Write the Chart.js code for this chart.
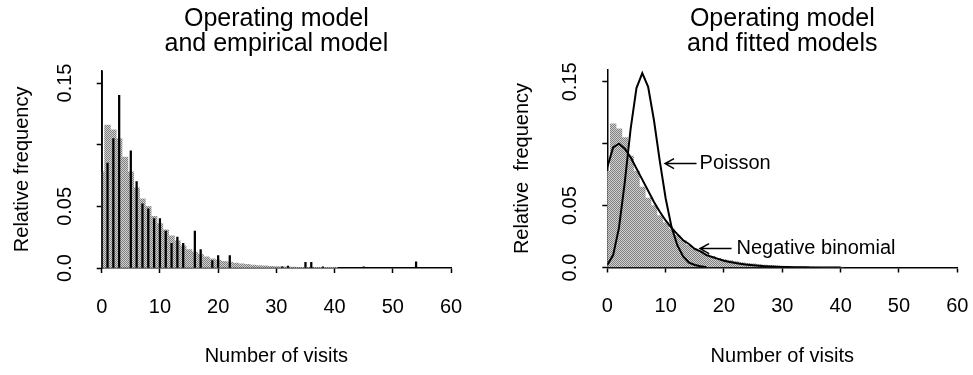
<!DOCTYPE html>
<html>
<head>
<meta charset="utf-8">
<script src="https://cdn.jsdelivr.net/npm/chart.js@4.4.1/dist/chart.umd.min.js"></script>
<style>
  html, body { margin: 0; padding: 0; background: #fff; }
  #wrap { position: relative; width: 973px; height: 375px; }
  canvas { position: absolute; top: 0; }
  #left { left: 0; }
  #right { left: 486px; }
</style>
</head>
<body>
<div id="wrap">
  <canvas id="left" width="486" height="375"></canvas>
  <canvas id="right" width="487" height="375"></canvas>
</div>
<script>
// ---- data ----
const visits = [0, 1, 2, 3, 4, 5, 6, 7, 8, 9, 10, 11, 12, 13, 14, 15, 16, 17, 18, 19, 20,
  21, 22, 23, 24, 25, 26, 27, 28, 29, 30, 31, 32, 33, 34, 35, 36, 37, 38, 39, 40];

// operating model (grey histogram)
const operatingModel = [0.078, 0.116, 0.112, 0.105, 0.090, 0.078, 0.065, 0.056, 0.050, 0.042, 0.036,
  0.031, 0.026, 0.022, 0.018, 0.015, 0.013, 0.011, 0.009, 0.0075, 0.0065,
  0.0055, 0.0047, 0.004, 0.0034, 0.0029, 0.0024, 0.002, 0.0017, 0.0014, 0.0012,
  0.001, 0.0008, 0.0007, 0.0006, 0.0005, 0.0004, 0.0003, 0.0003, 0.0002, 0.0002];

// empirical model (black needles)
const empiricalVisits = [0, 1, 2, 3, 5, 6, 7, 8, 9, 10, 11, 12, 13, 14, 16, 17, 19, 20, 22, 31, 32, 35, 36, 38, 45, 54];
const empiricalFreq = [0.160, 0.085, 0.105, 0.140, 0.095, 0.070, 0.052, 0.048, 0.040, 0.040, 0.030, 0.020, 0.025,
  0.020, 0.030, 0.015, 0.006, 0.010, 0.010, 0.001, 0.0015, 0.0045, 0.0045, 0.001, 0.001, 0.005];

// fitted models
const poissonFreq = [0.002, 0.010, 0.032, 0.069, 0.112, 0.145, 0.157, 0.146, 0.119, 0.086, 0.056,
  0.033, 0.018, 0.009, 0.004, 0.002, 0.001, 0.0003];
const negBinomialFreq = [0.081, 0.097, 0.100, 0.096, 0.089, 0.080, 0.071, 0.062, 0.053, 0.045, 0.038,
  0.032, 0.027, 0.022, 0.019, 0.015, 0.013, 0.010, 0.0085, 0.007, 0.0055,
  0.0045, 0.0036, 0.0029, 0.0023, 0.0018, 0.0014, 0.0011, 0.0009, 0.0007, 0.0005,
  0.0004, 0.0003, 0.0002, 0.0002, 0.0001, 0, 0, 0, 0, 0];

const xTicks = [0, 10, 20, 30, 40, 50, 60];
const yTicks = [0, 0.05, 0.10, 0.15];
const yTickLabels = ['0.0', '0.05', '', '0.15'];

// ---- look ----
const FONT = '"Liberation Sans", Arial, Helvetica, sans-serif';
Chart.defaults.font.family = FONT;
Chart.defaults.color = '#000';

// stipple fill like the halftone in the print
function stipple() {
  const c = document.createElement('canvas');
  c.width = 2; c.height = 2;
  const g = c.getContext('2d');
  g.fillStyle = '#d2d2d2'; g.fillRect(0, 0, 2, 2);
  g.fillStyle = '#7e7e7e'; g.fillRect(0, 0, 1, 1); g.fillRect(1, 1, 1, 1);
  return g.createPattern(c, 'repeat');
}
const greyFill = stipple();

const pts = (xs, ys) => ys.map((v, i) => ({ x: xs[i], y: v }));

const panelTitle = {
  id: 'panelTitle',
  afterDraw(chart, args, opts) {
    const { ctx, chartArea } = chart;
    const cx = (chartArea.left + chartArea.right) / 2;
    ctx.save();
    ctx.font = '25px ' + FONT;
    ctx.fillStyle = '#000';
    ctx.textAlign = 'center';
    ctx.textBaseline = 'middle';
    opts.lines.forEach((t, i) => ctx.fillText(t, cx, 19 + i * 25));
    ctx.restore();
  }
};

const arrowNotes = {
  id: 'arrowNotes',
  afterDatasetsDraw(chart, args, opts) {
    if (!opts.notes) return;
    const { ctx, scales: { x, y } } = chart;
    ctx.save();
    ctx.strokeStyle = '#000';
    ctx.fillStyle = '#000';
    ctx.lineWidth = 1.5;
    ctx.font = '20px ' + FONT;
    ctx.textBaseline = 'middle';
    opts.notes.forEach(n => {
      const tx = x.getPixelForValue(n.tip);
      const ex = x.getPixelForValue(n.tail);
      const ty = y.getPixelForValue(n.at);
      ctx.beginPath();
      ctx.moveTo(tx, ty); ctx.lineTo(ex, ty);
      ctx.moveTo(tx + 9, ty - 5); ctx.lineTo(tx, ty); ctx.lineTo(tx + 9, ty + 5);
      ctx.stroke();
      ctx.fillText(n.text, ex + n.gap, ty);
    });
    ctx.restore();
  }
};

function makePanel(id, p) {
  return new Chart(document.getElementById(id), {
    type: 'bar',
    data: { datasets: p.datasets },
    plugins: [panelTitle, arrowNotes],
    options: {
      responsive: false,
      animation: false,
      events: [],
      layout: { padding: { top: p.top, right: p.right, bottom: 0, left: 0 } },
      plugins: {
        legend: { display: false },
        tooltip: { enabled: false },
        panelTitle: { lines: p.title },
        arrowNotes: { notes: p.notes }
      },
      scales: {
        x: {
          type: 'linear',
          min: 0, max: 60,
          offset: false,
          afterBuildTicks: s => { s.ticks = xTicks.map(v => ({ value: v })); },
          afterFit: s => {
            s.height = p.xHeight;
            s.paddingLeft = 0;
            s.paddingRight = 0;
          },
          ticks: { font: { size: 20 }, padding: 22, maxRotation: 0, autoSkip: false },
          grid: { offset: false, drawOnChartArea: false, tickLength: 5, tickWidth: 1.5, tickColor: '#000' },
          border: { display: true, color: '#000', width: 1.5 },
          title: { display: true, text: 'Number of visits', font: { size: 20 }, padding: { top: 0, bottom: 7 } }
        },
        y: {
          type: 'linear',
          min: 0, max: 0.16,
          afterBuildTicks: s => { s.ticks = yTicks.map(v => ({ value: v })); },
          afterFit: s => { s.width = p.yWidth; },
          ticks: {
            font: { size: 20 },
            minRotation: 90, maxRotation: 90,
            crossAlign: 'center',
            padding: 12,
            callback: v => yTickLabels[yTicks.indexOf(v)]
          },
          grid: { drawOnChartArea: false, tickLength: 5, tickWidth: 1.5, tickColor: '#000' },
          border: { display: true, color: '#000', width: 1.5 },
          title: { display: true, text: p.yTitle, font: { size: 20 }, padding: { top: p.yTitlePad, bottom: 0 } }
        }
      }
    }
  });
}

const histogram = () => ({
  type: 'bar',
  data: pts(visits, operatingModel),
  backgroundColor: greyFill,
  borderWidth: 0,
  barPercentage: 1,
  categoryPercentage: 1,
  grouped: false,
  clip: 0,
  order: 5
});

makePanel('left', {
  title: ['Operating model', 'and empirical model'],
  yTitle: 'Relative frequency',
  yTitlePad: 10,
  top: 70.7, right: 35, yWidth: 101.7, xHeight: 107,
  datasets: [
    {
      type: 'bar',
      data: pts(empiricalVisits, empiricalFreq),
      backgroundColor: '#000',
      barThickness: 1.6,
      grouped: false,
      clip: 0,
      order: 0
    },
    histogram()
  ]
});

makePanel('right', {
  title: ['Operating model', 'and fitted models'],
  yTitle: 'Relative  frequency',
  yTitlePad: 24.5,
  top: 69.5, right: 15.7, yWidth: 121.3, xHeight: 107.5,
  notes: [
    { text: 'Poisson', tip: 9.9, tail: 15.3, at: 0.084, gap: 3 },
    { text: 'Negative binomial', tip: 15.9, tail: 21.3, at: 0.0153, gap: 5 }
  ],
  datasets: [
    {
      type: 'line',
      data: pts(visits, poissonFreq),
      borderColor: '#000',
      borderWidth: 2,
      pointRadius: 0,
      tension: 0,
      fill: false,
      order: 0
    },
    {
      type: 'line',
      data: pts(visits, negBinomialFreq),
      borderColor: '#000',
      borderWidth: 2,
      pointRadius: 0,
      tension: 0,
      fill: false,
      order: 1
    },
    histogram()
  ]
});
</script>
</body>
</html>
